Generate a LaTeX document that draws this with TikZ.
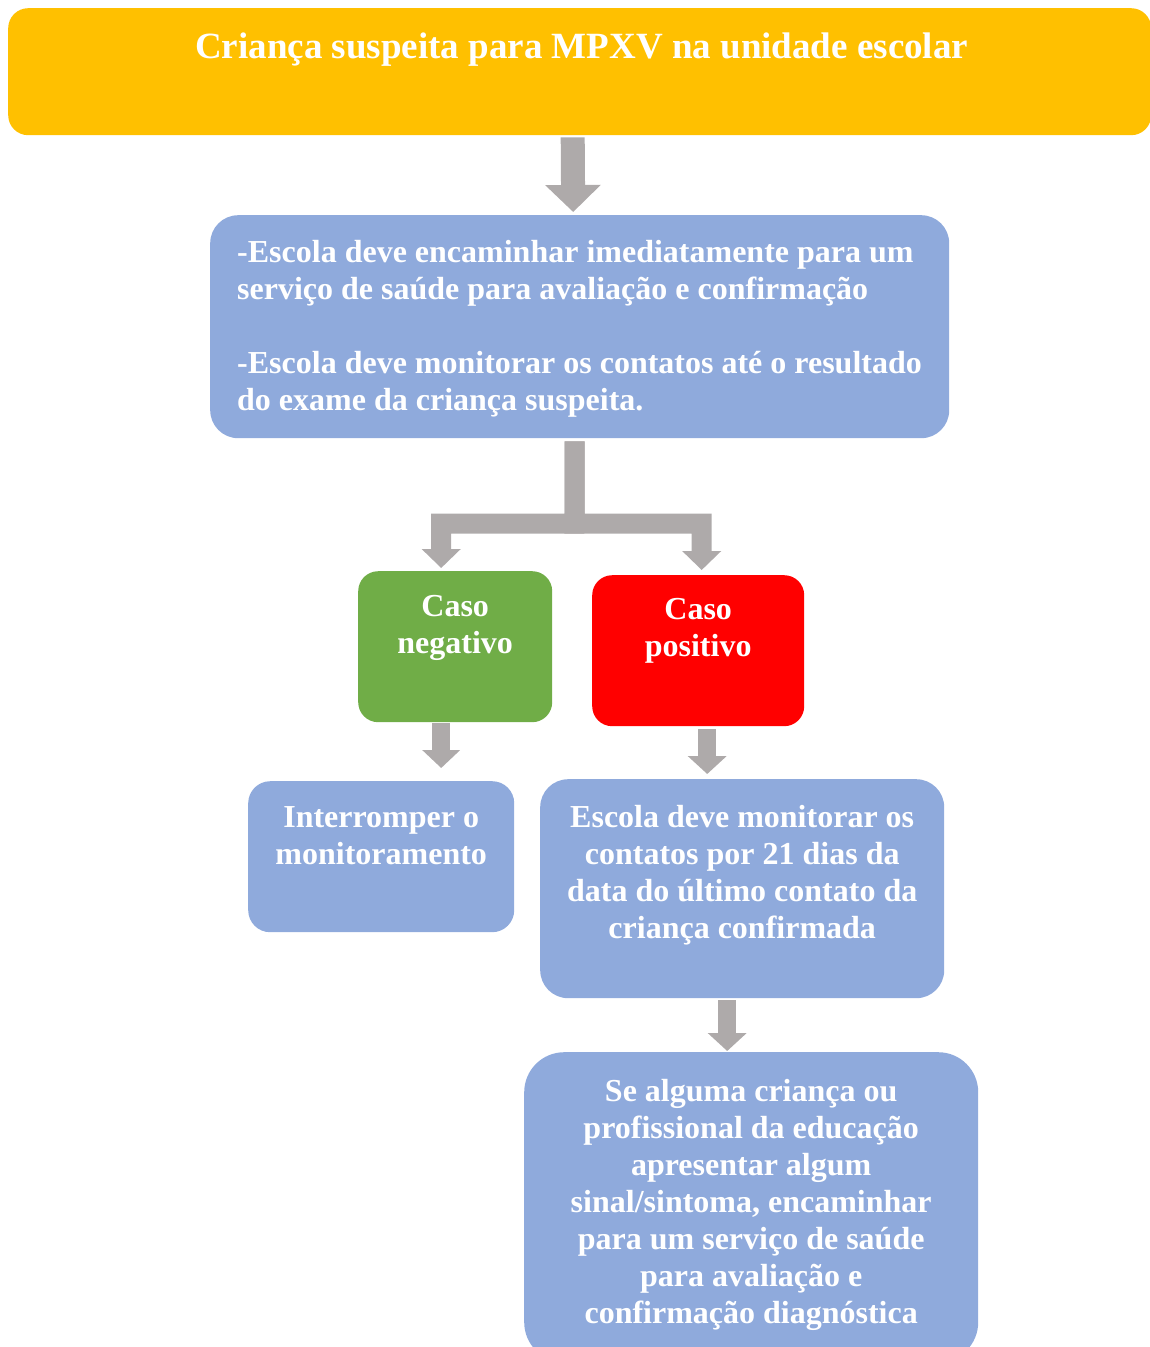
\documentclass[tikz,border=0pt]{standalone}
\usepackage{fontspec}
\setmainfont{Liberation Serif}
\usepackage{xcolor}
\usetikzlibrary{positioning}
\usetikzlibrary{arrows.meta}
\definecolor{laranja}{HTML}{FFC000}
\definecolor{azul}{HTML}{8FAADC}
\definecolor{verde}{HTML}{70AD47}
\definecolor{vermelho}{HTML}{FF0000}
\definecolor{cinza}{HTML}{AEAAAA}

\begin{document}
\begin{tikzpicture}
	[x=1pt, y=-1pt,
	box/.style = {anchor=north west, inner sep=0pt},
	txt/.style = {text=white, inner sep=0pt, align=center, font=\bfseries\fontsize{32}{37}\selectfont},
	flow/.style = {draw=cinza, line width=19pt, -{Triangle[width=38pt,length=19pt]}}]
	\useasboundingbox (0,0) rectangle (1150,1347);
	\clip (0,0) rectangle (1150,1347);
	\node[box, fill=laranja, rounded corners=20pt, minimum width=1143pt, minimum height=127pt] (suspeita) at (8,8) {};
	\node[box, fill=azul, rounded corners=28pt, minimum width=739pt, minimum height=223pt] (orient) at (210,215) {};
	\node[box, fill=verde, rounded corners=20pt, minimum width=194pt, minimum height=151pt] (negativo) at (358,571) {};
	\node[box, fill=vermelho, rounded corners=20pt, minimum width=212pt, minimum height=151pt] (positivo) at (592,575) {};
	\node[box, fill=azul, rounded corners=22pt, minimum width=266pt, minimum height=151pt] (interromper) at (248,781) {};
	\node[box, fill=azul, rounded corners=28pt, minimum width=404pt, minimum height=219pt] (monitorar) at (540,779) {};
	\node[box, fill=azul, rounded corners=40pt, minimum width=454pt, minimum height=310pt] (sintoma) at (524,1052) {};

	\node[txt, font=\bfseries\fontsize{37}{42}\selectfont] (suspeita-t) [below = 25pt of suspeita.north, xshift=2pt] {Criança suspeita para MPXV na unidade escolar};
	\node[txt, align=left] (orient-t) [below right = 25pt and 27pt of orient.north west] {-Escola deve encaminhar imediatamente para um\\serviço de saúde para avaliação e confirmação\\[37pt]-Escola deve monitorar os contatos até o resultado\\do exame da criança suspeita.};
	\node[txt] (negativo-t) [below = 24pt of negativo.north] {Caso\\negativo};
	\node[txt] (positivo-t) [below = 23pt of positivo.north] {Caso\\positivo};
	\node[txt] (interromper-t) [below = 25pt of interromper.north] {Interromper o\\monitoramento};
	\node[txt] (monitorar-t) [below = 26pt of monitorar.north] {Escola deve monitorar os\\contatos por 21 dias da\\data do último contato da\\criança confirmada};
	\node[txt] (sintoma-t) [below = 27pt of sintoma.north] {Se alguma criança ou\\profissional da educação\\apresentar algum\\sinal/sintoma, encaminhar\\para um serviço de saúde\\para avaliação e\\confirmação diagnóstica};

	\coordinate (juncao) at (574.5,523.5);
	\draw[flow, line width=24pt, -{Triangle[width=54pt,length=27pt]}] ([xshift=-7pt,yshift=-2pt]suspeita.south) -- ([xshift=-6.5pt,yshift=3pt]orient.north);
	\draw[flow, line width=20pt] ([xshift=-5pt,yshift=-3pt]orient.south) -- (juncao) -| ([xshift=-14pt,yshift=3pt]negativo.north);
	\draw[flow, line width=20pt] ([xshift=-5pt,yshift=-3pt]orient.south) -- (juncao) -| ([xshift=3.5pt,yshift=5pt]positivo.north);
	\draw[flow, line width=18pt, -{Triangle[width=37pt,length=18pt]}] ([xshift=-14pt,yshift=-1pt]negativo.south) -- ([xshift=60pt,yshift=13pt]interromper.north);
	\draw[flow, line width=18pt, -{Triangle[width=38pt,length=18pt]}] ([xshift=9pt,yshift=-3pt]positivo.south) -- ([xshift=-35pt,yshift=5pt]monitorar.north);
	\draw[flow, line width=18pt, -{Triangle[width=38pt,length=18pt]}] ([xshift=-15pt,yshift=-2pt]monitorar.south) -- ([xshift=-24pt,yshift=1pt]sintoma.north);
\end{tikzpicture}
\end{document}
